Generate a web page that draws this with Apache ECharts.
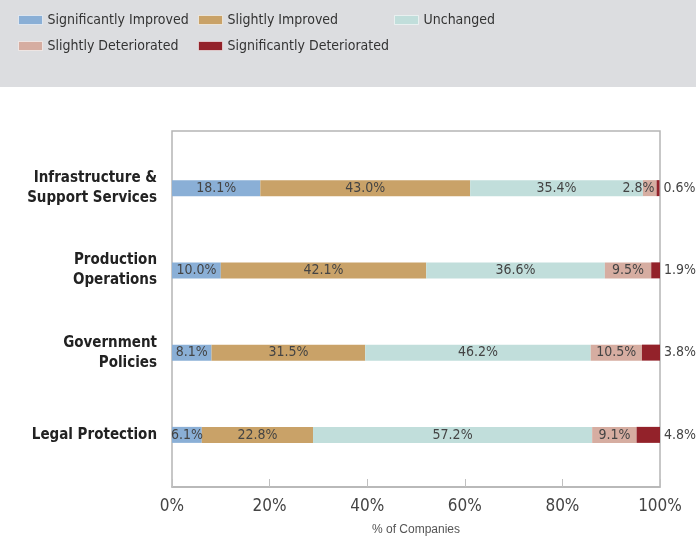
<!DOCTYPE html>
<html>
<head>
<meta charset="utf-8">
<script src="https://cdn.jsdelivr.net/npm/echarts@6/dist/echarts.min.js"></script>
<style>
  html, body { margin: 0; padding: 0; background: #fff; }
  #chart { width: 696px; height: 542px; }
</style>
</head>
<body>
<div id="chart"></div>
<script>
// Categories, top to bottom
const categories = [
  'Infrastructure &\nSupport Services',
  'Production\nOperations',
  'Government\nPolicies',
  'Legal Protection'
];
// Share of companies per response (%)
const sigImproved = [18.1, 10.0, 8.1, 6.1];
const slightImproved = [43.0, 42.1, 31.5, 22.8];
const unchanged = [35.4, 36.6, 46.2, 57.2];
const slightDeteriorated = [2.8, 9.5, 10.5, 9.1];
const sigDeteriorated = [0.6, 1.9, 3.8, 4.8];
const xTicks = [0, 20, 40, 60, 80, 100];

const seriesDefs = [
  { name: 'Significantly Improved', data: sigImproved, color: '#8aafd6' },
  { name: 'Slightly Improved', data: slightImproved, color: '#c9a268' },
  { name: 'Unchanged', data: unchanged, color: '#c1dedb' },
  { name: 'Slightly Deteriorated', data: slightDeteriorated, color: '#d6ada1' },
  { name: 'Significantly Deteriorated', data: sigDeteriorated, color: '#93222a' }
];

const condensed = '"DejaVu Sans Condensed", "Liberation Sans", sans-serif';

const legendPos = [
  { left: 13, top: 8 },
  { left: 193, top: 8 },
  { left: 389, top: 8 },
  { left: 13, top: 34 },
  { left: 193, top: 34 }
];

const chart = echarts.init(document.getElementById('chart'), null, { renderer: 'canvas' });

const option = {
  animation: false,
  backgroundColor: '#ffffff',
  graphic: [{
    type: 'rect',
    left: 0, top: 0,
    shape: { width: 696, height: 87 },
    style: { fill: '#dcdde0' },
    z: -10
  }],
  legend: seriesDefs.map((s, i) => ({
    data: [s.name],
    left: legendPos[i].left,
    top: legendPos[i].top,
    itemWidth: 24,
    itemHeight: 9,
    itemGap: 8,
    icon: 'rect',
    selectedMode: false,
    itemStyle: { borderColor: 'rgba(255,255,255,0.55)', borderWidth: 1 },
    textStyle: { fontFamily: condensed, fontSize: 14, color: '#333' }
  })),
  grid: [
    { left: 172, right: 36, top: 131, bottom: 55, show: true, borderColor: '#b5b5b5', borderWidth: 1.5, backgroundColor: 'transparent' },
    { left: 172, right: 36, top: 147, bottom: 66 }
  ],
  xAxis: [
    {
      gridIndex: 0, type: 'value', min: 0, max: 100, interval: 20,
      name: '% of Companies', nameLocation: 'middle', nameGap: 37,
      nameTextStyle: { fontFamily: 'Liberation Sans, Arial, sans-serif', fontSize: 12, color: '#555' },
      axisLine: { show: true, lineStyle: { color: '#b5b5b5', width: 1.5 } },
      axisTick: { show: true, inside: true, length: 8, lineStyle: { color: '#c0c0c0' } },
      splitLine: { show: false },
      axisLabel: {
        margin: 11,
        fontFamily: condensed, fontSize: 17, color: '#444',
        formatter: v => xTicks.includes(v) ? v + '%' : ''
      }
    },
    {
      gridIndex: 1, type: 'value', min: 0, max: 100,
      show: false
    }
  ],
  yAxis: [
    { gridIndex: 0, type: 'value', show: false },
    {
      gridIndex: 1, type: 'category', data: categories, inverse: true,
      axisLine: { show: false }, axisTick: { show: false },
      axisLabel: {
        margin: 15,
        fontFamily: condensed, fontWeight: 'bold', fontSize: 15, color: '#222',
        lineHeight: 20, align: 'right'
      }
    }
  ],
  series: seriesDefs.map((s, si) => ({
    name: s.name,
    type: 'bar',
    stack: 'total',
    xAxisIndex: 1,
    yAxisIndex: 1,
    barWidth: 16,
    itemStyle: { color: s.color },
    data: s.data.map(v => {
      const item = { value: v };
      if (si === 3 && v < 4) item.label = { position: 'insideRight', distance: 2 };
      return item;
    }),
    label: {
      show: true,
      position: si === 4 ? 'right' : 'inside',
      distance: 4,
      fontFamily: condensed, fontSize: 14, color: '#444',
      formatter: p => p.value.toFixed(1) + '%'
    }
  }))
};

chart.setOption(option);
</script>
</body>
</html>
